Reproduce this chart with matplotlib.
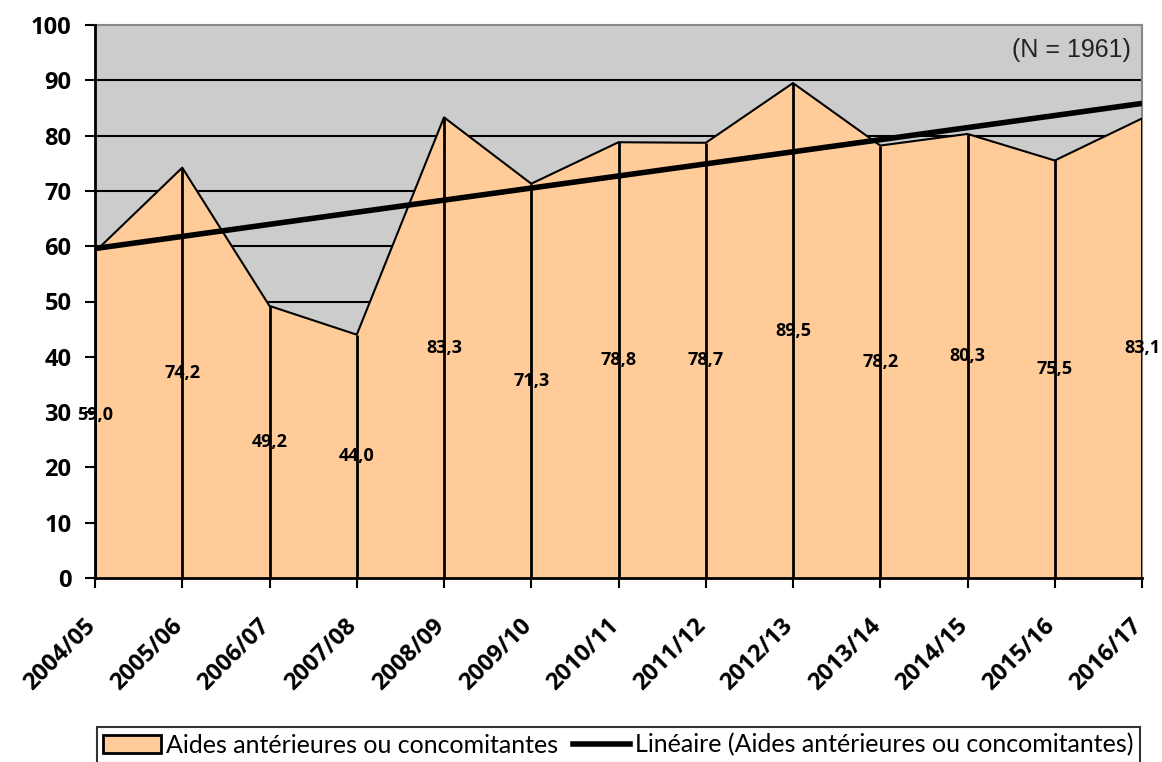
import numpy as np
import matplotlib
matplotlib.use("Agg")
import matplotlib.pyplot as plt
import matplotlib.transforms as mtransforms
from matplotlib.patches import Patch
from matplotlib.lines import Line2D

# Données
annees = ['2004/05', '2005/06', '2006/07', '2007/08', '2008/09', '2009/10', '2010/11',
          '2011/12', '2012/13', '2013/14', '2014/15', '2015/16', '2016/17']
aides = [59.0, 74.2, 49.2, 44.0, 83.3, 71.3, 78.8, 78.7, 89.5, 78.2, 80.3, 75.5, 83.1]
yticks = [0, 10, 20, 30, 40, 50, 60, 70, 80, 90, 100]
note = '(N = 1961)'
serie_nom = 'Aides antérieures ou concomitantes'
tendance_nom = 'Linéaire (Aides antérieures ou concomitantes)'

x = np.arange(len(annees))
y = np.array(aides)

police = 'Open Sans'

fig = plt.figure(figsize=(11.62, 7.62), dpi=100)
ax = fig.add_axes([95 / 1162, 1 - 578 / 762, (1142 - 95) / 1162, (578 - 25) / 762])
ax.set_facecolor('#cccccc')

# Grille horizontale
for t in yticks[1:-1]:
    ax.axhline(t, color='black', lw=1.5, zorder=1)

# Aire
ax.fill_between(x, 0, y, color='#ffcc99', zorder=2)
ax.plot(x, y, color='black', lw=1.5, zorder=3)
ax.vlines(x, 0, y, color='black', lw=2, zorder=3)

# Tendance linéaire
pente, origine = np.polyfit(x, y, 1)
ax.plot(x, pente * x + origine, color='black', lw=4, zorder=4, solid_capstyle='butt')

# Étiquettes de données
for xi, yi in zip(x, y):
    ax.text(xi, yi / 2, f'{yi:.1f}'.replace('.', ','), ha='center', va='center',
            fontsize=13, fontweight='bold', family=police, zorder=5)

ax.text(0.989, 0.955, note, transform=ax.transAxes, ha='right', va='center',
        fontsize=18, family='Liberation Sans', color='#222222', zorder=5)

ax.set_xlim(0, len(annees) - 1)
ax.set_ylim(0, 100)
ax.set_xticks(x)
ax.set_xticklabels(annees, rotation=45, ha='right', rotation_mode='anchor',
                   fontsize=17, fontweight='bold', family=police)
ax.set_yticks(yticks)
ax.set_yticklabels([str(t) for t in yticks], fontsize=17, fontweight='bold', family=police)
ax.tick_params(axis='both', direction='out', length=7, width=1.5, color='black')
ax.tick_params(axis='x', pad=9)
ax.tick_params(axis='y', pad=10)

# décaler les étiquettes de l'axe x vers le bas à gauche
decalage = mtransforms.ScaledTranslation(-12 / 100, -14 / 100, fig.dpi_scale_trans)
for lab in ax.get_xticklabels():
    lab.set_transform(lab.get_transform() + decalage)

for s in ['top', 'right']:
    ax.spines[s].set_color('#888888')
    ax.spines[s].set_linewidth(1.5)
for s in ['left', 'bottom']:
    ax.spines[s].set_color('black')
    ax.spines[s].set_linewidth(2)
    ax.spines[s].set_zorder(6)

handles = [Patch(facecolor='#ffcc99', edgecolor='black', lw=2),
           Line2D([0], [0], color='black', lw=4)]
leg = fig.legend(handles, [serie_nom, tendance_nom], loc='upper left',
                 bbox_to_anchor=(97 / 1162, 1 - 727 / 762), ncol=2, frameon=True,
                 fancybox=False, edgecolor='black', prop={'family': 'Lato', 'size': 18},
                 handlelength=2.3, handletextpad=0.2, columnspacing=0.6,
                 borderpad=0.25, borderaxespad=0)
leg.get_frame().set_linewidth(1.5)

fig.savefig('out.png', dpi=100)
